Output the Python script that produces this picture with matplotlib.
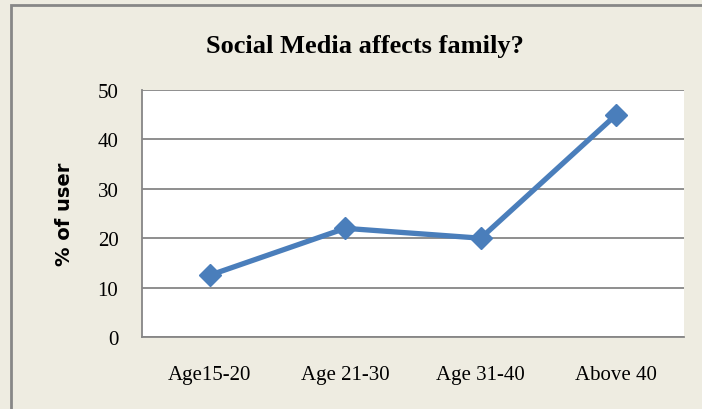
import matplotlib.pyplot as plt
from matplotlib.patches import Rectangle

categories = ['Age15-20', 'Age 21-30', 'Age 31-40', 'Above 40']
user_pct = [12.5, 22, 20, 45]
yticks = [0, 10, 20, 30, 40, 50]

bg = '#EEECE1'
fig = plt.figure(figsize=(7.02, 4.10), dpi=100, facecolor=bg)

# outer frame of the chart area
fig.patches.append(Rectangle((11 / 702, -0.05), 1.2, 1 - 6 / 410 + 0.05,
                             transform=fig.transFigure, fill=False,
                             edgecolor='#878787', linewidth=2, zorder=0))

ax = fig.add_axes([142 / 702, 1 - 338 / 410, (684 - 142) / 702, (338 - 91) / 410])
ax.set_facecolor('white')

x = list(range(len(categories)))
ax.plot(x, user_pct, color='#4A7EBB', linewidth=3.8, marker='D',
        markersize=11, zorder=3)

ax.set_xlim(-0.5, len(categories) - 0.5)
ax.set_ylim(0, 50)
ax.set_yticks(yticks)
ax.set_xticks(x)
ax.set_xticklabels(categories)
ax.grid(True, axis='y', color='#868686', linewidth=1.3)
ax.set_axisbelow(True)

for side in ['top', 'right']:
    ax.spines[side].set_visible(False)
for side in ['left', 'bottom']:
    ax.spines[side].set_color('#868686')
    ax.spines[side].set_linewidth(1.3)

ax.tick_params(length=0, labelsize=15)
for lbl in ax.get_xticklabels() + ax.get_yticklabels():
    lbl.set_family('Liberation Serif')
ax.tick_params(axis='x', pad=20)
ax.tick_params(axis='y', pad=17)

ax.set_ylabel('% of user', fontsize=14, fontweight='bold', family='DejaVu Sans',
              labelpad=17)
fig.text(365 / 702, 1 - 46 / 410, 'Social Media affects family?', ha='center',
         va='center', fontsize=19, fontweight='bold', family='Liberation Serif')

plt.savefig('out.png', dpi=100, facecolor=bg)
